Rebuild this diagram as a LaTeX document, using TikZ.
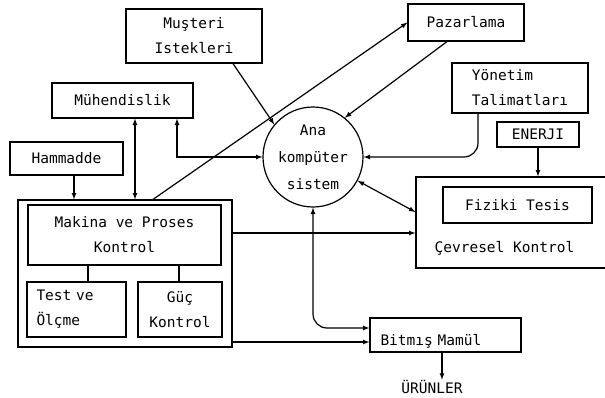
\documentclass[tikz,border=0pt]{standalone}
\usepackage{fontspec}
\setmonofont{DejaVu Sans Mono}
\usepackage{tikz}
\newcommand{\boxfont}{\ttfamily\fontsize{14.5}{25}\selectfont}

\begin{document}
\begin{tikzpicture}[x=1pt, y=-1pt, >=latex, line width=1.2pt,
		box/.style={draw, inner sep=0pt, align=center, font=\boxfont},
		lbl/.style={inner sep=0pt, font=\boxfont}]
		\useasboundingbox (0,0) rectangle (605,397);
		\clip (0,0) rectangle (605,397);
		% kutular
		\node[box, minimum width=136pt, minimum height=54pt] (must) at (194,36) {Muşteri\\Istekleri};
		\node[box, minimum width=116pt, minimum height=37pt] (paz) at (466,22.5) {Pazarlama};
		\node[box, minimum width=141pt, minimum height=35pt] (muh) at (122.5,100.5) {Mühendislik};
		\node[box, minimum width=113pt, minimum height=33pt] (ham) at (66.5,158.5) {Hammadde};
		\node[box, minimum width=214pt, minimum height=147pt] (outer) at (125,273.5) {};
		\node[box, minimum width=193pt, minimum height=60pt] (mak) at (124.5,235) {Makina ve Proses\\Kontrol};
		\node[box, minimum width=99pt, minimum height=55pt, text width=80pt, align=left] (test) at (76.5,309.5) {Test ve\\Ölçme};
		\node[box, minimum width=84pt, minimum height=55pt] (guc) at (180,309.5) {Güç\\Kontrol};
		\node[box, circle, minimum size=100pt] (comp) at (313,157) {Ana\\[2pt]kompüter\\[2pt]sistem};
		\node[box, minimum width=136pt, minimum height=50pt, align=left] (yon) at (520,88) {Yönetim\\Talimatları};
		\node[box, minimum width=82pt, minimum height=25pt] (ener) at (538,134.5) {ENERJI};
		\node[box, minimum width=209pt, minimum height=91pt] (cevre) at (520.5,222.5) {};
		\node[box, minimum width=149pt, minimum height=36pt] (fiz) at (517.5,205) {Fiziki Tesis};
		\node[lbl, anchor=west] (cevtxt) at (434,248) {Çevresel Kontrol};
		\node[box, minimum width=151pt, minimum height=34pt, text width=130pt, align=left,
			text height=22pt, text depth=2pt] (bit) at (445.5,335) {Bitmış Mamül};
		\node[lbl] (urun) at (432,387) {ÜRÜNLER};
		% baglantilar
		\draw[->] (must.south -| 233,0) -- (comp.140);
		\draw[->] (outer.north -| 153,0) -- (paz.west);
		\draw[->] (paz.south -| 447,0) -- (comp.51);
		\draw[<->] (muh.south -| 177,0) |- (comp.west);
		\draw[<->] (muh.south -| 135,0) -- (outer.north -| 135,0);
		\draw[->] (ham.south -| 74,0) -- (outer.north -| 74,0);
		\draw[->, rounded corners=14pt] (yon.south -| 478,0) |- (comp.east);
		\draw[->] (ener.south) -- (cevre.north -| ener.south);
		\draw[<->] (comp.-28) -- (cevre.west |- 0,212);
		\draw[->] (outer.east |- 0,233) -- (cevre.west |- 0,233);
		\draw[<->, rounded corners=14pt] (comp.south) |- (bit.west |- 0,328);
		\draw[->] (outer.east |- 0,342) -- (bit.west |- 0,342);
		\draw[->] (bit.south -| 442,0) -- (urun.north -| 442,0);
		\draw (mak.south -| 88,0) -- (test.north -| 88,0);
		\draw (mak.south -| 179,0) -- (guc.north -| 179,0);
\end{tikzpicture}
\end{document}
